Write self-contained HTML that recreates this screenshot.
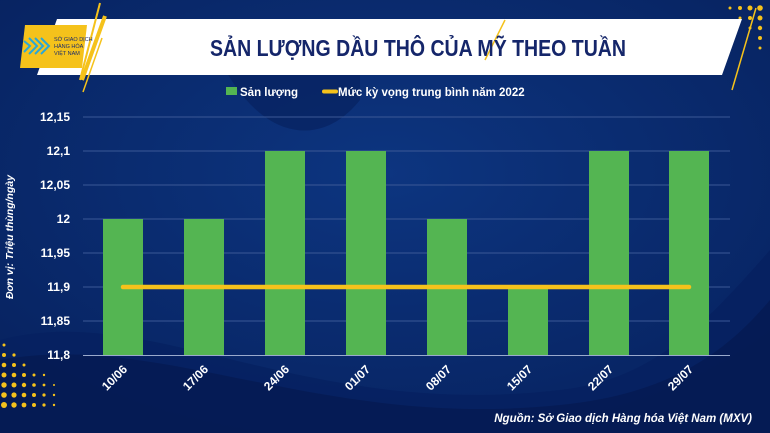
<!DOCTYPE html>
<html><head><meta charset="utf-8"><style>
html,body{margin:0;padding:0;width:770px;height:433px;overflow:hidden;background:#082a6e}
svg{display:block}
text{font-family:"Liberation Sans",sans-serif}
</style></head><body>
<svg width="770" height="433" viewBox="0 0 770 433" xmlns="http://www.w3.org/2000/svg">
<defs>
<radialGradient id="bg" cx="0.5" cy="0.4" r="0.8">
<stop offset="0" stop-color="#0d3580"/><stop offset="1" stop-color="#061f5a"/></radialGradient>
</defs>
<rect width="770" height="433" fill="url(#bg)"/>
<path d="M0 340 C150 300 300 420 560 390 C650 380 700 330 770 250 L770 433 L0 433Z" fill="#062060" opacity="0.8"/>
<path d="M0 360 C160 330 320 430 560 405 C660 395 720 360 770 300 L770 433 L0 433Z" fill="#051a50" opacity="0.7"/>
<path d="M220 60 C260 140 320 150 360 100 L360 60Z" fill="#06205c" opacity="0.6"/>
<g fill="#f5c21b">
<circle cx="4" cy="345" r="1.5"/><circle cx="4" cy="355" r="2"/><circle cx="14" cy="355" r="1.6"/><circle cx="4" cy="365" r="2.3"/><circle cx="14" cy="365" r="2"/><circle cx="24" cy="365" r="1.5"/><circle cx="4" cy="375" r="2.5"/><circle cx="14" cy="375" r="2.3"/><circle cx="24" cy="375" r="2"/><circle cx="34" cy="375" r="1.5"/><circle cx="44" cy="375" r="1.2"/>
<circle cx="4" cy="385" r="2.7"/><circle cx="14" cy="385" r="2.5"/><circle cx="24" cy="385" r="2.2"/><circle cx="34" cy="385" r="1.8"/><circle cx="44" cy="385" r="1.4"/><circle cx="54" cy="385" r="1"/>
<circle cx="4" cy="395" r="2.8"/><circle cx="14" cy="395" r="2.6"/><circle cx="24" cy="395" r="2.3"/><circle cx="34" cy="395" r="2"/><circle cx="44" cy="395" r="1.6"/><circle cx="54" cy="395" r="1.2"/>
<circle cx="4" cy="405" r="3"/><circle cx="14" cy="405" r="2.7"/><circle cx="24" cy="405" r="2.4"/><circle cx="34" cy="405" r="2"/><circle cx="44" cy="405" r="1.6"/><circle cx="54" cy="405" r="1.2"/>
<circle cx="730" cy="8" r="1.5"/><circle cx="740" cy="8" r="2"/><circle cx="750" cy="8" r="2.5"/><circle cx="760" cy="8" r="2.8"/><circle cx="740" cy="18" r="1.5"/><circle cx="750" cy="18" r="2"/><circle cx="760" cy="18" r="2.5"/><circle cx="750" cy="28" r="1.5"/><circle cx="760" cy="28" r="2.2"/><circle cx="760" cy="38" r="2"/><circle cx="760" cy="48" r="1.5"/>
</g>
<polygon points="57,19 742,19 722,75 37,75" fill="#ffffff"/>
<polygon points="25,25 87,25 82,68 20,68" fill="#f5c21b"/>
<line x1="100" y1="3" x2="80" y2="80" stroke="#f5c21b" stroke-width="2"/>
<line x1="105" y1="16" x2="82" y2="80" stroke="#f5c21b" stroke-width="4"/>
<line x1="102" y1="38" x2="83" y2="92" stroke="#f5c21b" stroke-width="1.5"/>
<line x1="505" y1="20" x2="485" y2="60" stroke="#f5c21b" stroke-width="1.5"/>
<line x1="756" y1="8" x2="732" y2="90" stroke="#f5c21b" stroke-width="1.5"/>
<g fill="none" stroke="#2aa7d8" stroke-width="2">
<path d="M24 41 L30 46 L24 52 M29 38 L37 46 L29 54 M35 38 L43 46 L35 54 M41 38 L49 46 L41 54"/>
</g>
<text x="54" y="41" font-size="5.5" fill="#1b2c6b">SỞ GIAO DỊCH</text>
<text x="54" y="48" font-size="5.5" fill="#1b2c6b">HÀNG HÓA</text>
<text x="54" y="55" font-size="5.5" fill="#1b2c6b">VIỆT NAM</text>
<text x="418" y="56" font-size="23" font-weight="bold" fill="#15266a" text-anchor="middle" textLength="416" lengthAdjust="spacingAndGlyphs">SẢN LƯỢNG DẦU THÔ CỦA MỸ THEO TUẦN</text>
<rect x="226" y="87" width="11" height="8" fill="#54b552"/>
<text x="240" y="96" font-size="11.5" font-weight="bold" fill="#fff">Sản lượng</text>
<line x1="324" y1="91.5" x2="336" y2="91.5" stroke="#f5c21b" stroke-width="4" stroke-linecap="round"/>
<text x="338" y="96" font-size="11.5" font-weight="bold" fill="#fff">Mức kỳ vọng trung bình năm 2022</text>
<g stroke="#3b5896" stroke-width="1">
<line x1="83" y1="117" x2="730" y2="117"/><line x1="83" y1="151" x2="730" y2="151"/><line x1="83" y1="185" x2="730" y2="185"/><line x1="83" y1="219" x2="730" y2="219"/><line x1="83" y1="253" x2="730" y2="253"/><line x1="83" y1="287" x2="730" y2="287"/><line x1="83" y1="321" x2="730" y2="321"/>
</g>
<g font-size="12" font-weight="bold" fill="#fff" text-anchor="end">
<text x="70" y="121">12,15</text><text x="70" y="155">12,1</text><text x="70" y="189">12,05</text><text x="70" y="223">12</text><text x="70" y="257">11,95</text><text x="70" y="291">11,9</text><text x="70" y="325">11,85</text><text x="70" y="359">11,8</text>
</g>
<text transform="translate(13,237) rotate(-90)" font-size="10.5" font-weight="bold" font-style="italic" fill="#fff" text-anchor="middle">Đơn vị:  Triệu thùng/ngày</text>
<g fill="#54b552">
<rect x="103" y="219" width="40" height="136"/><rect x="184" y="219" width="40" height="136"/><rect x="265" y="151" width="40" height="204"/><rect x="346" y="151" width="40" height="204"/><rect x="427" y="219" width="40" height="136"/><rect x="508" y="287" width="40" height="68"/><rect x="589" y="151" width="40" height="204"/><rect x="669" y="151" width="40" height="204"/>
</g>
<line x1="83" y1="355.5" x2="730" y2="355.5" stroke="#9aaacd" stroke-width="1"/>
<line x1="123" y1="287" x2="689" y2="287" stroke="#f5c21b" stroke-width="4.5" stroke-linecap="round"/>
<g font-size="12" font-weight="bold" fill="#fff" text-anchor="end">
<text transform="translate(128,370) rotate(-45)">10/06</text>
<text transform="translate(209,370) rotate(-45)">17/06</text>
<text transform="translate(290,370) rotate(-45)">24/06</text>
<text transform="translate(371,370) rotate(-45)">01/07</text>
<text transform="translate(452,370) rotate(-45)">08/07</text>
<text transform="translate(533,370) rotate(-45)">15/07</text>
<text transform="translate(614,370) rotate(-45)">22/07</text>
<text transform="translate(694,370) rotate(-45)">29/07</text>
</g>
<text x="752" y="422" font-size="11.5" font-weight="bold" font-style="italic" fill="#fff" text-anchor="end">Nguồn: Sở Giao dịch Hàng hóa Việt Nam (MXV)</text>
</svg>
</body></html>
